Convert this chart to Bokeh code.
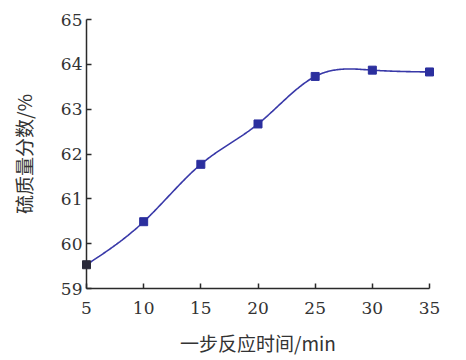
import numpy as np
from bokeh.plotting import figure
from bokeh.models import Range1d, FixedTicker
from bokeh.embed import file_html
from bokeh.resources import INLINE

# data
time_min = [5, 10, 15, 20, 25, 30, 35]
sulfur_pct = [59.53, 60.49, 61.77, 62.67, 63.73, 63.87, 63.83]
x_ticks = [5, 10, 15, 20, 25, 30, 35]
y_ticks = [59, 60, 61, 62, 63, 64, 65]


def natural_spline(x, y, n=300):
    x = np.asarray(x, float)
    y = np.asarray(y, float)
    k = len(x)
    h = np.diff(x)
    A = np.zeros((k, k))
    b = np.zeros(k)
    A[0, 0] = 1
    A[-1, -1] = 1
    for i in range(1, k - 1):
        A[i, i - 1] = h[i - 1]
        A[i, i] = 2 * (h[i - 1] + h[i])
        A[i, i + 1] = h[i]
        b[i] = 3 * ((y[i + 1] - y[i]) / h[i] - (y[i] - y[i - 1]) / h[i - 1])
    c = np.linalg.solve(A, b)
    xs = np.linspace(x[0], x[-1], n)
    ys = np.empty_like(xs)
    for j, xv in enumerate(xs):
        i = min(np.searchsorted(x, xv, side="right") - 1, k - 2)
        dx = xv - x[i]
        bi = (y[i + 1] - y[i]) / h[i] - h[i] * (c[i + 1] + 2 * c[i]) / 3
        di = (c[i + 1] - c[i]) / (3 * h[i])
        ys[j] = y[i] + bi * dx + c[i] * dx ** 2 + di * dx ** 3
    return xs, ys


sx, sy = natural_spline(time_min, sulfur_pct)

p = figure(width=457, height=358, output_backend="svg", toolbar_location=None,
           x_range=Range1d(5, 35), y_range=Range1d(59, 65),
           min_border_left=86, min_border_right=28, min_border_top=19,
           min_border_bottom=61)
p.outline_line_color = None
p.xgrid.visible = False
p.ygrid.visible = False

p.line(sx, sy, line_color="#3838a8", line_width=1.6)
colors = ["#2a2a3a"] + ["#2b2f9e"] * (len(time_min) - 1)
p.scatter(time_min, sulfur_pct, marker="square", size=8, fill_color=colors,
          line_color=colors, level="overlay")

for ax in (p.xaxis, p.yaxis):
    ax.axis_line_color = "#2a2a2a"
    ax.axis_line_width = 1.5
    ax.major_tick_line_color = "#2a2a2a"
    ax.major_tick_line_width = 1.5
    ax.major_tick_in = 5
    ax.major_tick_out = 0
    ax.minor_tick_line_color = None
    ax.major_label_text_font = "DejaVu Serif"
    ax.major_label_text_font_size = "17px"
    ax.major_label_text_color = "#333333"
    ax.axis_label_text_font = "Noto Sans CJK SC"
    ax.axis_label_text_font_size = "19px"
    ax.axis_label_text_font_style = "normal"
    ax.axis_label_text_color = "#333333"

p.xaxis.ticker = FixedTicker(ticks=x_ticks)
p.yaxis.ticker = FixedTicker(ticks=y_ticks)
p.xaxis.axis_label = "一步反应时间/min"
p.yaxis.axis_label = "硫质量分数/%"
p.xaxis.major_label_standoff = 13
p.yaxis.major_label_standoff = 4
p.xaxis.axis_label_standoff = 12
p.yaxis.axis_label_standoff = 21

open("out.html", "w").write(file_html(p, INLINE))
